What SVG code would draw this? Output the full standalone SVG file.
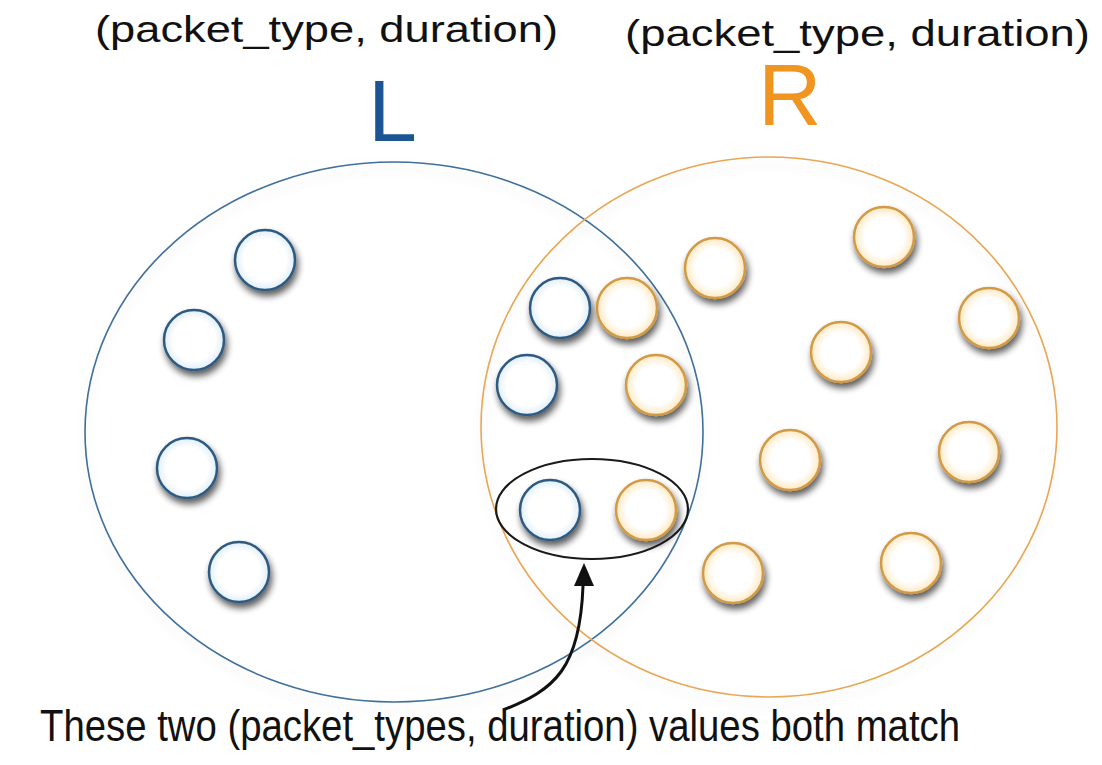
<svg xmlns="http://www.w3.org/2000/svg" width="1102" height="765" viewBox="0 0 1102 765">
<defs>
<style>
.lbl{font-family:"Liberation Sans",Arial,sans-serif;fill:#111;}
.big{font-family:"Liberation Sans",Arial,sans-serif;}
.bsm{fill:url(#gb);stroke:#2e5a82;stroke-width:2.5;filter:url(#sh);}
.osm{fill:url(#go);stroke:#d39a45;stroke-width:2.5;filter:url(#sh);}
</style>
<radialGradient id="gb" cx="0.5" cy="0.5" r="0.5">
<stop offset="0.7" stop-color="#ffffff"/>
<stop offset="1" stop-color="#dfeef8"/>
</radialGradient>
<radialGradient id="go" cx="0.5" cy="0.5" r="0.5">
<stop offset="0.65" stop-color="#ffffff"/>
<stop offset="1" stop-color="#fde9c2"/>
</radialGradient>
<filter id="sh" x="-40%" y="-40%" width="190%" height="200%">
<feGaussianBlur in="SourceAlpha" stdDeviation="3.5"/>
<feOffset dx="2" dy="5" result="b"/>
<feComponentTransfer><feFuncA type="linear" slope="0.65"/></feComponentTransfer>
<feMerge><feMergeNode/><feMergeNode in="SourceGraphic"/></feMerge>
</filter>
<filter id="bigsh" x="-10%" y="-10%" width="120%" height="125%">
<feGaussianBlur in="SourceAlpha" stdDeviation="6"/>
<feOffset dx="0" dy="8"/>
<feComponentTransfer><feFuncA type="linear" slope="0.12"/></feComponentTransfer>
<feMerge><feMergeNode/><feMergeNode in="SourceGraphic"/></feMerge>
</filter>
</defs>
<rect width="1102" height="765" fill="#ffffff"/>
<g id="labels">
<text class="lbl" x="95" y="42" font-size="36" textLength="463" lengthAdjust="spacingAndGlyphs">(packet_type, duration)</text>
<text class="lbl" x="625" y="46" font-size="36" textLength="465" lengthAdjust="spacingAndGlyphs">(packet_type, duration)</text>
<text class="big" x="368" y="141" font-size="88" fill="#1b5593">L</text>
<text class="big" x="758" y="125" font-size="88" fill="#f0951f">R</text>
</g>
<g id="set-L">
<ellipse cx="394" cy="432" rx="309" ry="270" fill="none" stroke="#3f6f9b" stroke-width="1.6" filter="url(#bigsh)"/>
</g>
<g id="set-R">
<ellipse cx="769" cy="427" rx="288" ry="270" fill="none" stroke="#e9a653" stroke-width="1.6" filter="url(#bigsh)"/>
</g>
<g id="L-items">
<circle id="l1" class="bsm" cx="265" cy="260" r="30"/>
<circle id="l2" class="bsm" cx="194" cy="340" r="30"/>
<circle id="l3" class="bsm" cx="187" cy="468" r="30"/>
<circle id="l4" class="bsm" cx="239" cy="572" r="30"/>
<circle id="l5" class="bsm" cx="560" cy="308" r="30"/>
<circle id="l6" class="bsm" cx="527" cy="385" r="30"/>
<circle id="l7" class="bsm" cx="550" cy="510" r="30"/>
</g>
<g id="R-items">
<circle id="r1" class="osm" cx="627" cy="308" r="30"/>
<circle id="r2" class="osm" cx="656" cy="385" r="30"/>
<circle id="r3" class="osm" cx="646" cy="510" r="30"/>
<circle id="r4" class="osm" cx="715" cy="268" r="30"/>
<circle id="r5" class="osm" cx="884" cy="237" r="30"/>
<circle id="r6" class="osm" cx="989" cy="318" r="30"/>
<circle id="r7" class="osm" cx="841" cy="352" r="30"/>
<circle id="r8" class="osm" cx="790" cy="460" r="30"/>
<circle id="r9" class="osm" cx="969" cy="452" r="30"/>
<circle id="r10" class="osm" cx="733" cy="573" r="30"/>
<circle id="r11" class="osm" cx="911" cy="563" r="30"/>
</g>
<g id="match">
<ellipse cx="592" cy="509" rx="96" ry="50" fill="none" stroke="#1a1a1a" stroke-width="2.2"/>
</g>
<g id="connectors">
<path d="M503 710 C555 690 580 668 583 586" fill="none" stroke="#111" stroke-width="3"/>
<polygon points="584,563 574,586 594,586" fill="#111"/>
</g>
<g id="caption">
<text class="lbl" x="40" y="741" font-size="44" textLength="920" lengthAdjust="spacingAndGlyphs">These two (packet_types, duration) values both match</text>
</g>
</svg>
